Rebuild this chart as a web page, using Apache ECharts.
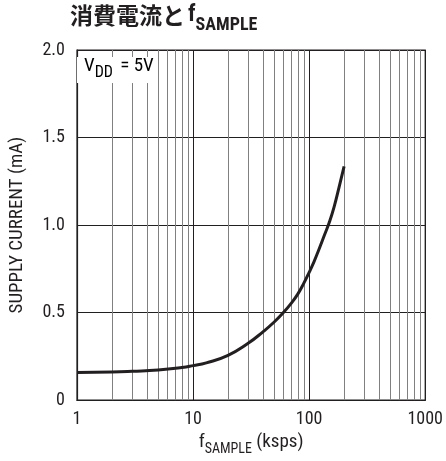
<!DOCTYPE html>
<html>
<head>
<meta charset="utf-8">
<script src="https://cdn.jsdelivr.net/npm/echarts@6/dist/echarts.min.js"></script>
<style>
  html, body { margin: 0; padding: 0; background: #fff; }
  #chart { width: 446px; height: 461px; }
</style>
</head>
<body>
<div id="chart"></div>
<script>
// Supply current versus sample rate (VDD = 5V)
const sampleRateKsps = [1, 2, 3, 5, 8, 10, 13, 20, 30, 40, 50, 60, 70, 80, 90, 100, 110, 120, 135, 150, 165, 180, 200];
const supplyCurrentMa = [0.158, 0.161, 0.165, 0.172, 0.186, 0.197, 0.213, 0.256, 0.326, 0.39, 0.446, 0.50, 0.553, 0.607, 0.668, 0.73, 0.79, 0.852, 0.94, 1.02, 1.11, 1.21, 1.335];

// Axis ticks
const xMajorTicks = [1, 10, 100, 1000];
const xMinorTicks = [2, 3, 4, 5, 6, 7, 8, 9, 20, 30, 40, 50, 60, 70, 80, 90, 200, 300, 400, 500, 600, 700, 800, 900];
const yTickLabels = ['0', '0.5', '1.0', '1.5', '2.0'];

const cond = '"Roboto Condensed", "DejaVu Sans Condensed", sans-serif';
const cjk = '"Noto Sans CJK JP", sans-serif';
const ink = '#231f20';

const chart = echarts.init(document.getElementById('chart'), null, { renderer: 'canvas' });

chart.setOption({
  animation: false,
  backgroundColor: '#fff',
  title: {
    text: '{a|消費電流と}{f|f}{s|SAMPLE}',
    left: 70,
    top: 4,
    padding: 0,
    textStyle: {
      rich: {
        a: { fontFamily: cjk, fontWeight: 'bold', fontSize: 23, color: ink, lineHeight: 28, verticalAlign: 'top' },
        f: { fontFamily: cond, fontWeight: 'bold', fontSize: 23, color: ink, lineHeight: 28, verticalAlign: 'top', padding: [0, 0, 0, 3] },
        s: { fontFamily: cond, fontWeight: 'bold', fontSize: 18, color: ink, lineHeight: 19, verticalAlign: 'top', padding: [12, 0, 0, 0] }
      }
    }
  },
  grid: {
    left: 75, right: 18, top: 50, bottom: 60,
    show: true, borderColor: ink, borderWidth: 1.2
  },
  xAxis: {
    type: 'log',
    logBase: 10,
    min: xMajorTicks[0],
    max: xMajorTicks[xMajorTicks.length - 1],
    name: '{f|f}{s|SAMPLE}{t| (ksps)}',
    nameLocation: 'middle',
    nameGap: 32,
    nameTextStyle: {
      rich: {
        f: { fontFamily: cond, fontSize: 19, color: ink, lineHeight: 21, verticalAlign: 'top' },
        s: { fontFamily: cond, fontSize: 14, color: ink, lineHeight: 15, verticalAlign: 'top', padding: [9, 0, 0, 0] },
        t: { fontFamily: cond, fontSize: 19, color: ink, lineHeight: 21, verticalAlign: 'top' }
      }
    },
    axisLine: { show: true, lineStyle: { color: ink, width: 1.2 } },
    axisTick: { show: false },
    axisLabel: {
      margin: 10,
      fontFamily: cond, fontSize: 18, color: ink,
      formatter: v => String(Math.round(v))
    },
    splitLine: { show: true, lineStyle: { color: ink, width: 1 } },
    minorTick: { show: false },
    minorSplitLine: { show: false }
  },
  yAxis: {
    type: 'value',
    min: 0,
    max: 2,
    interval: 0.5,
    name: 'SUPPLY CURRENT (mA)',
    nameLocation: 'middle',
    nameRotate: 90,
    nameGap: 50,
    nameTextStyle: { fontFamily: cond, fontSize: 19, color: ink },
    axisLine: { show: true, lineStyle: { color: ink, width: 1.2 } },
    axisTick: { show: false },
    axisLabel: {
      margin: 12,
      fontFamily: cond, fontSize: 18, color: ink,
      formatter: (v) => yTickLabels[Math.round(v / 0.5)]
    },
    splitLine: { show: true, lineStyle: { color: ink, width: 1 } }
  },
  series: [
    {
      // minor decade grid lines (2..9 within each decade)
      type: 'line',
      data: [],
      silent: true,
      markLine: {
        silent: true,
        symbol: 'none',
        label: { show: false },
        lineStyle: { type: 'solid', color: '#808080', width: 1 },
        data: xMinorTicks.map(v => ({ xAxis: v }))
      },
      z: 1
    },
    {
      type: 'line',
      data: sampleRateKsps.map((x, i) => [x, supplyCurrentMa[i]]),
      smooth: 0.5,
      symbol: 'none',
      lineStyle: { color: ink, width: 3 },
      z: 5
    }
  ],
  graphic: [
    {
      // VDD condition label on a white plate inside the plot
      type: 'text',
      left: 77,
      top: 57,
      z: 10,
      style: {
        text: '{v|V}{d|DD}{e| = 5V}',
        backgroundColor: '#fff',
        padding: [0, 3, 0, 7],
        rich: {
          v: { fontFamily: cond, fontSize: 19, color: ink, lineHeight: 26, verticalAlign: 'top' },
          d: { fontFamily: cond, fontSize: 16, color: ink, lineHeight: 18, verticalAlign: 'top', padding: [8, 0, 0, 0] },
          e: { fontFamily: cond, fontSize: 19, color: ink, lineHeight: 26, verticalAlign: 'top', padding: [0, 0, 0, 3] }
        }
      }
    }
  ]
});
</script>
</body>
</html>
